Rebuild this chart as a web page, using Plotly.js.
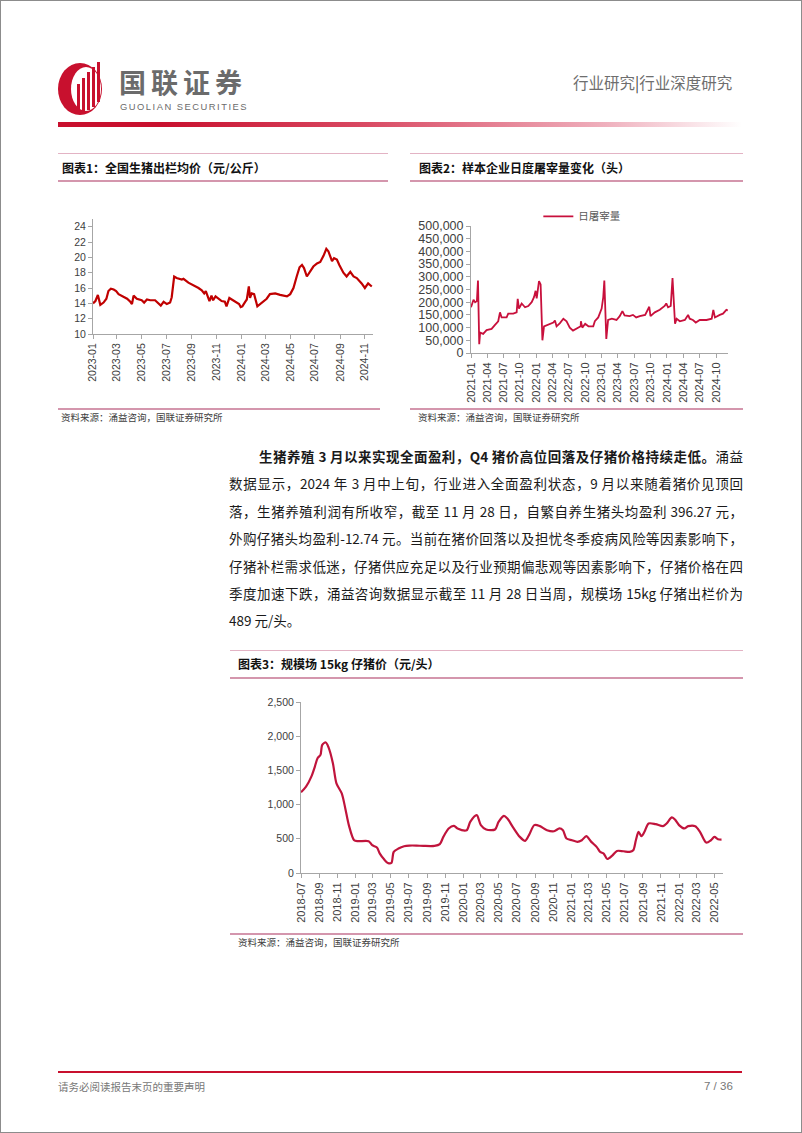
<!DOCTYPE html>
<html>
<head>
<meta charset="utf-8">
<script src="https://cdn.plot.ly/plotly-3.0.1.min.js"></script>
<style>
  html, body { margin:0; padding:0; background:#fff; }
  #page { position:relative; width:802px; height:1133px; overflow:hidden; background:#fff; }
  .frame { position:absolute; left:0; top:0; width:802px; height:1133px; box-sizing:border-box; border:1px solid #8c8c8c; pointer-events:none; }
  .abs { position:absolute; }
  .cjk { font-family:"Noto Sans CJK SC", "Noto Sans", sans-serif; }
  .ttl { font-family:"Noto Sans CJK SC", sans-serif; font-weight:bold; font-size:12px; color:#111; white-space:nowrap; line-height:16px; }
  .src { font-family:"Noto Sans CJK SC", sans-serif; font-size:9.5px; color:#404040; white-space:nowrap; line-height:12px; }
  .pl1 { position:absolute; height:1px; background:#e3b3c4; }
  .pl2 { position:absolute; height:2px; background:#d496ad; }
  .para { position:absolute; font-family:"Noto Sans CJK SC", sans-serif; font-size:13.5px; line-height:27px; color:#1a1a1a; white-space:nowrap; text-align:justify; text-align-last:justify; }
</style>
</head>
<body>
<div id="page">
  <!-- header -->
  <svg class="abs" style="left:56px;top:60px" width="52" height="56" viewBox="0 0 52 56">
    <ellipse cx="24" cy="29" rx="22" ry="26" fill="#c8102e"/>
    <ellipse cx="30" cy="29" rx="15" ry="22" fill="#fff"/>
    <rect x="21" y="24" width="3" height="28" fill="#c8102e"/>
    <rect x="26" y="18" width="3" height="33" fill="#c8102e"/>
    <rect x="31" y="12" width="3" height="38" fill="#c8102e"/>
    <rect x="36" y="7" width="3" height="40" fill="#c8102e"/>
    <rect x="41" y="2" width="3" height="40" fill="#c8102e"/>
  </svg>
  <div class="abs cjk" style="left:119px;top:68px;font-size:27px;line-height:27px;color:#6b6b6b;font-weight:bold;letter-spacing:5px;white-space:nowrap">国联证券</div>
  <div class="abs" style="left:120px;top:102px;font-family:'Liberation Sans',Arial,sans-serif;font-size:9.4px;line-height:10px;color:#6b6b6b;letter-spacing:1.5px;white-space:nowrap">GUOLIAN SECURITIES</div>
  <div class="abs cjk" style="left:573px;top:72px;font-size:15.5px;line-height:20px;color:#6e6e6e;white-space:nowrap">行业研究<span style="color:#444">|</span>行业深度研究</div>
  <div class="abs" style="left:58px;top:122px;width:684px;height:5px;background:linear-gradient(to right,#c8102e 0%,#c8102e 15%,#d94a63 45%,#efb0bd 80%,#ffffff 100%)"></div>

  <!-- chart 1 frame -->
  <div class="pl1" style="left:58px;top:153px;width:330px"></div>
  <div class="abs ttl" style="left:62px;top:160px">图表1：全国生猪出栏均价（元/公斤）</div>
  <div class="pl2" style="left:58px;top:180px;width:330px"></div>
  <div id="chart1" class="abs" style="left:50px;top:195px;width:340px;height:200px"></div>
  <div class="pl2" style="left:58px;top:408px;width:322px"></div>
  <div class="abs src" style="left:61px;top:411px">资料来源：涌益咨询，国联证券研究所</div>

  <!-- chart 2 frame -->
  <div class="pl1" style="left:410px;top:153px;width:333px"></div>
  <div class="abs ttl" style="left:419px;top:160px">图表2：样本企业日度屠宰量变化（头）</div>
  <div class="pl2" style="left:410px;top:180px;width:333px"></div>
  <div id="chart2" class="abs" style="left:410px;top:190px;width:340px;height:215px"></div>
  <div class="pl2" style="left:410px;top:408px;width:333px"></div>
  <div class="abs src" style="left:418px;top:411px">资料来源：涌益咨询，国联证券研究所</div>

  <!-- paragraph -->
  <div class="para" style="left:259px;top:443px;width:484px"><b>生猪养殖 3 月以来实现全面盈利，Q4 猪价高位回落及仔猪价格持续走低。</b>涌益</div>
  <div class="para" style="left:229px;top:470px;width:514px">数据显示，2024 年 3 月中上旬，行业进入全面盈利状态，9 月以来随着猪价见顶回</div>
  <div class="para" style="left:229px;top:498px;width:514px">落，生猪养殖利润有所收窄，截至 11 月 28 日，自繁自养生猪头均盈利 396.27 元，</div>
  <div class="para" style="left:229px;top:525px;width:514px">外购仔猪头均盈利-12.74 元。当前在猪价回落以及担忧冬季疫病风险等因素影响下，</div>
  <div class="para" style="left:229px;top:553px;width:514px">仔猪补栏需求低迷，仔猪供应充足以及行业预期偏悲观等因素影响下，仔猪价格在四</div>
  <div class="para" style="left:229px;top:580px;width:514px">季度加速下跌，涌益咨询数据显示截至 11 月 28 日当周，规模场 15kg 仔猪出栏价为</div>
  <div class="para" style="left:229px;top:607px;text-align:left;text-align-last:left">489 元/头。</div>

  <!-- chart 3 frame -->
  <div class="pl1" style="left:230px;top:650px;width:513px"></div>
  <div class="abs ttl" style="left:238px;top:656px">图表3：规模场 15kg 仔猪价（元/头）</div>
  <div class="pl2" style="left:230px;top:677px;width:513px"></div>
  <div id="chart3" class="abs" style="left:230px;top:685px;width:513px;height:245px"></div>
  <div class="pl2" style="left:230px;top:933px;width:513px"></div>
  <div class="abs src" style="left:238px;top:936px">资料来源：涌益咨询，国联证券研究所</div>

  <!-- footer -->
  <div class="abs" style="left:58px;top:1071px;width:684px;height:2px;background:#c8102e"></div>
  <div class="abs cjk" style="left:58px;top:1080px;font-size:10.5px;line-height:14px;color:#777;white-space:nowrap">请务必阅读报告末页的重要声明</div>
  <div class="abs" style="left:704px;top:1079px;font-family:'Liberation Sans',Arial,sans-serif;font-size:11.5px;line-height:14px;color:#777;white-space:nowrap">7 / 36</div>
  <div class="frame"></div>
</div>

<script>
// ---------- Chart 1: 全国生猪出栏均价（元/公斤）----------
const c1Dates = [
  '2023-01-01','2023-01-07','2023-01-13','2023-01-19','2023-01-27',
  '2023-02-03','2023-02-08','2023-02-14','2023-02-21','2023-02-27',
  '2023-03-05','2023-03-13','2023-03-26',
  '2023-04-03','2023-04-07','2023-04-11','2023-04-19',
  '2023-05-01','2023-05-07','2023-05-14','2023-05-22',
  '2023-06-03','2023-06-11','2023-06-17','2023-06-24',
  '2023-07-02','2023-07-10','2023-07-14','2023-07-20','2023-07-26',
  '2023-08-08','2023-08-12','2023-08-24',
  '2023-09-05','2023-09-18','2023-09-26',
  '2023-10-02','2023-10-06','2023-10-15','2023-10-20','2023-10-24','2023-10-30',
  '2023-11-06','2023-11-14','2023-11-22','2023-11-26',
  '2023-12-03','2023-12-09','2023-12-21','2023-12-27','2023-12-31',
  '2024-01-04','2024-01-11','2024-01-15','2024-01-20','2024-01-23','2024-01-27',
  '2024-02-02','2024-02-10','2024-02-17','2024-02-25',
  '2024-03-04','2024-03-12','2024-03-25',
  '2024-04-06','2024-04-14','2024-04-23',
  '2024-05-01','2024-05-09','2024-05-17','2024-05-24','2024-05-30',
  '2024-06-04','2024-06-11','2024-06-19','2024-06-27',
  '2024-07-06','2024-07-14','2024-07-22','2024-07-29',
  '2024-08-03','2024-08-12','2024-08-17','2024-08-24','2024-08-30',
  '2024-09-09','2024-09-17','2024-09-26',
  '2024-10-04','2024-10-12','2024-10-24',
  '2024-11-01','2024-11-09','2024-11-18'
];
const c1Price = [
  14.0,14.3,15.1,13.8,14.1,
  14.6,15.6,15.9,15.8,15.6,
  15.2,15.0,14.6,
  14.2,13.9,15.0,14.6,
  14.4,14.1,14.5,14.4,
  14.4,14.0,13.7,14.2,
  13.9,14.1,14.8,17.5,17.3,
  17.1,17.2,16.7,
  16.4,16.0,15.7,
  15.3,15.6,14.3,15.0,14.4,14.9,
  14.6,14.3,14.2,13.6,
  14.7,14.5,14.2,13.9,13.5,
  13.6,14.2,14.5,16.2,14.7,15.3,
  15.2,13.6,13.9,14.3,
  14.6,15.2,15.3,
  15.1,15.0,14.9,
  15.2,16.0,17.5,18.7,19.0,
  18.6,17.5,18.2,18.8,
  19.2,19.4,20.2,21.1,
  20.8,19.5,19.9,19.7,19.0,
  18.0,17.5,18.1,
  17.5,17.3,16.6,
  16.0,16.6,16.2
];
const c1YTicks = [10,12,14,16,18,20,22,24];

// ---------- Chart 2: 样本企业日度屠宰量变化（头）----------
const c2Dates = [
  '2021-01-01','2021-01-15','2021-01-24','2021-02-03','2021-02-09','2021-02-16','2021-02-21',
  '2021-03-10','2021-03-29','2021-04-26','2021-05-14','2021-06-02','2021-06-12','2021-06-21',
  '2021-07-19','2021-07-28','2021-08-25','2021-09-13','2021-09-19','2021-09-26','2021-10-11',
  '2021-10-30','2021-11-17','2021-12-06','2021-12-19','2021-12-28',
  '2022-01-03','2022-01-16','2022-01-25','2022-02-04','2022-02-13','2022-03-16','2022-04-06',
  '2022-04-15','2022-04-24','2022-05-13','2022-06-01','2022-06-19','2022-07-07','2022-07-25',
  '2022-08-13','2022-09-06','2022-09-07','2022-09-15','2022-10-01','2022-10-19','2022-11-15',
  '2022-11-24','2022-12-13',
  '2023-01-01','2023-01-10','2023-01-16','2023-01-27','2023-02-06','2023-02-27','2023-03-25',
  '2023-04-12','2023-04-27','2023-05-09','2023-06-06','2023-06-25','2023-07-13','2023-08-02',
  '2023-09-01','2023-09-24','2023-10-01','2023-10-25','2023-11-22','2023-12-19','2023-12-28',
  '2024-01-07','2024-01-22','2024-02-01','2024-02-15','2024-02-24','2024-03-13','2024-04-10',
  '2024-04-28','2024-05-07','2024-05-25','2024-06-10','2024-07-02','2024-08-09','2024-09-07',
  '2024-09-16','2024-09-25','2024-10-22','2024-11-09','2024-11-28','2024-12-06'
];
const c2Slaughter = [
  180000,210000,200000,205000,285000,35000,80000,
  75000,90000,95000,110000,125000,160000,140000,
  140000,155000,155000,160000,213000,175000,195000,
  180000,185000,200000,220000,245000,
  215000,283000,270000,50000,105000,115000,120000,
  128000,105000,118000,135000,125000,100000,88000,
  95000,105000,125000,100000,115000,105000,105000,
  125000,140000,
  175000,220000,285000,55000,130000,135000,130000,
  145000,165000,148000,145000,150000,140000,145000,
  150000,182000,145000,160000,170000,185000,195000,
  180000,185000,295000,115000,135000,125000,130000,
  150000,135000,130000,120000,130000,130000,135000,
  170000,140000,150000,155000,170000,168000
];
const c2SeriesName = '日屠宰量';

// ---------- Chart 3: 规模场 15kg 仔猪价（元/头）----------
const c3Dates = [
  '2018-07-01','2018-07-18','2018-08-05','2018-08-17','2018-08-26','2018-09-05','2018-09-11',
  '2018-09-23','2018-10-02','2018-10-17','2018-10-29','2018-11-16','2018-11-28','2018-12-10',
  '2018-12-28',
  '2019-01-10','2019-02-15','2019-02-27','2019-03-15','2019-03-25','2019-04-09','2019-04-21',
  '2019-05-03','2019-05-11','2019-05-27','2019-06-15','2019-07-03','2019-07-27','2019-08-20',
  '2019-09-26','2019-10-14','2019-10-26','2019-11-13','2019-12-01','2019-12-13',
  '2020-01-13','2020-01-25','2020-02-16','2020-03-01','2020-03-19','2020-04-18','2020-04-30',
  '2020-05-18','2020-05-30','2020-06-17','2020-07-11','2020-07-29','2020-08-11','2020-08-29',
  '2020-09-17','2020-10-11','2020-11-04','2020-11-22','2020-12-04','2020-12-16',
  '2021-01-04','2021-01-22','2021-02-06','2021-02-21','2021-03-10','2021-03-28','2021-04-09',
  '2021-04-21','2021-05-03','2021-05-21','2021-06-05','2021-06-27','2021-07-18','2021-07-30',
  '2021-08-08','2021-08-17','2021-08-27','2021-09-06','2021-09-20','2021-10-14','2021-11-08',
  '2021-11-20','2021-12-08','2021-12-20',
  '2022-01-01','2022-01-19','2022-02-01','2022-02-25','2022-03-13','2022-04-03','2022-04-19',
  '2022-05-01','2022-05-13','2022-05-25'
];
const c3Price = [
  1180,1262,1409,1556,1678,1727,1874,
  1908,1840,1605,1311,1164,944,700,
  479,
  465,465,406,372,284,196,147,
  147,308,357,391,401,401,396,
  396,421,528,651,690,651,
  626,748,846,700,636,636,748,
  836,797,675,528,470,553,700,
  685,626,611,651,626,504,
  479,455,479,538,455,382,308,
  284,205,259,323,318,308,333,
  479,602,538,602,724,714,685,
  724,812,773,
  700,651,685,685,602,445,479,
  528,494,489
];

const axisBase = {
  showline:true, linecolor:'#a6a6a6', linewidth:1,
  ticks:'outside', ticklen:4, tickcolor:'#a6a6a6', tickwidth:1,
  showgrid:false, zeroline:false, automargin:false
};
const fontFam = '"Liberation Sans", Arial, sans-serif';
const cfg = {staticPlot:true, displayModeBar:false};

Plotly.newPlot('chart1', [{
  x:c1Dates, y:c1Price, type:'scatter', mode:'lines',
  line:{color:'#c00000', width:2.2}, hoverinfo:'skip'
}], {
  width:340, height:200,
  margin:{l:42.7, r:17, t:24, b:60.7},
  paper_bgcolor:'#fff', plot_bgcolor:'#fff', showlegend:false,
  font:{family:fontFam, color:'#404040', size:10.5},
  xaxis:Object.assign({}, axisBase, {
    type:'date', range:['2023-01-01','2024-11-21'],
    tick0:'2023-01-01', dtick:'M2', tickformat:'%Y-%m', tickangle:-90,
    tickfont:{family:fontFam, size:10.5, color:'#404040'}
  }),
  yaxis:Object.assign({}, axisBase, {
    range:[10,25], tickvals:c1YTicks,
    tickfont:{family:fontFam, size:10.5, color:'#404040'}
  })
}, cfg);

Plotly.newPlot('chart2', [{
  x:c2Dates, y:c2Slaughter, type:'scatter', mode:'lines', name:c2SeriesName,
  line:{color:'#c8103c', width:1.8}, hoverinfo:'skip'
}], {
  width:340, height:215,
  margin:{l:60.7, r:22, t:23.3, b:51.7},
  paper_bgcolor:'#fff', plot_bgcolor:'#fff', showlegend:true,
  legend:{orientation:'h', x:0.262, xanchor:'left', y:1.076, yanchor:'middle',
          itemwidth:30, bgcolor:'rgba(0,0,0,0)', borderwidth:0,
          font:{family:'"Noto Sans CJK SC", sans-serif', size:10.5, color:'#595959'}},
  font:{family:fontFam, color:'#404040', size:11},
  xaxis:Object.assign({}, axisBase, {
    type:'date', range:['2021-01-01','2024-12-07'],
    tick0:'2021-01-01', dtick:'M3', tickformat:'%Y-%m', tickangle:-90,
    tickfont:{family:fontFam, size:11, color:'#404040'}
  }),
  yaxis:Object.assign({}, axisBase, {
    range:[0,500000], dtick:50000, tickformat:',d',
    tickfont:{family:fontFam, size:12.5, color:'#404040'}
  })
}, cfg);

Plotly.newPlot('chart3', [{
  x:c3Dates, y:c3Price, type:'scatter', mode:'lines',
  line:{color:'#c0143c', width:2.2, shape:'spline', smoothing:0.8}, hoverinfo:'skip'
}], {
  width:513, height:245,
  margin:{l:70.7, r:20, t:17.3, b:57.3},
  paper_bgcolor:'#fff', plot_bgcolor:'#fff', showlegend:false,
  font:{family:fontFam, color:'#404040', size:11},
  xaxis:Object.assign({}, axisBase, {
    type:'date', range:['2018-07-01','2022-05-30'],
    tick0:'2018-07-01', dtick:'M2', tickformat:'%Y-%m', tickangle:-90,
    tickfont:{family:fontFam, size:11, color:'#404040'}
  }),
  yaxis:Object.assign({}, axisBase, {
    range:[0,2500], dtick:500, tickformat:',d',
    tickfont:{family:fontFam, size:10.5, color:'#404040'}
  })
}, cfg);
</script>
</body>
</html>
